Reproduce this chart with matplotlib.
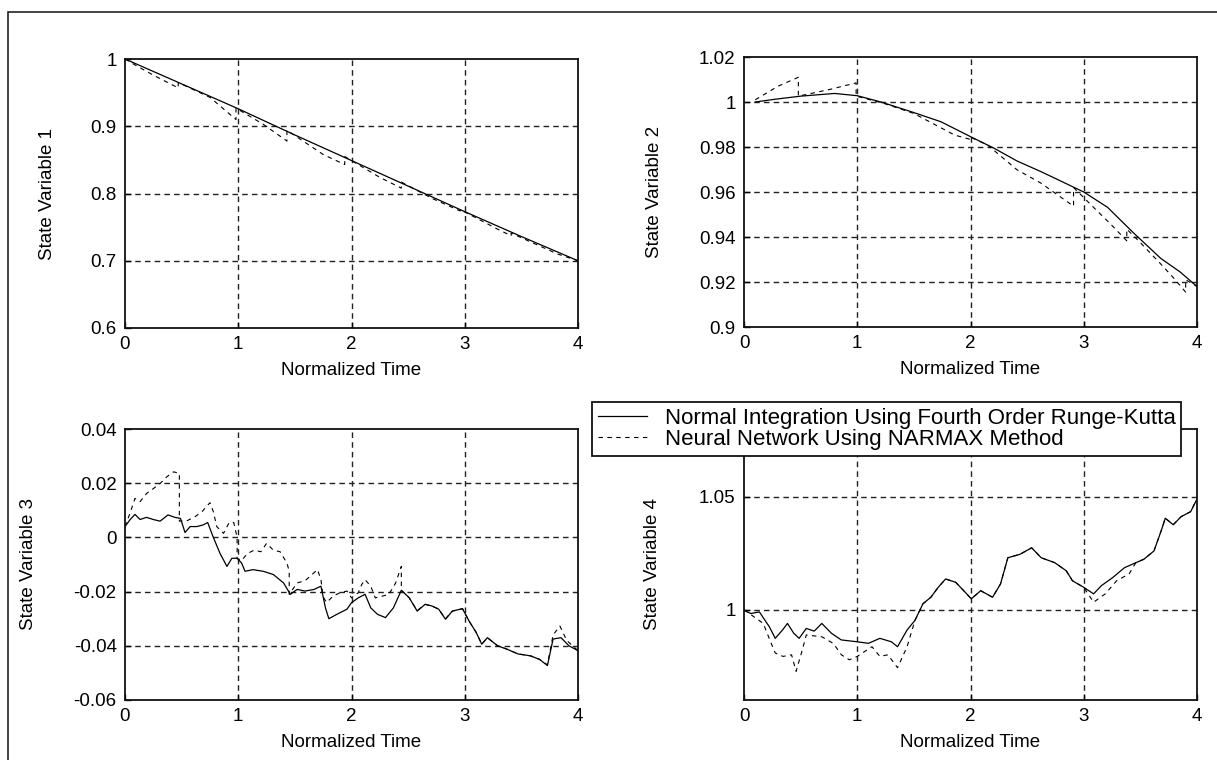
import matplotlib as mpl
mpl.use('Agg')
from matplotlib import pyplot as plt
from matplotlib.patches import Rectangle
import numpy as np

plt.rcParams['font.family'] = ['Liberation Sans', 'DejaVu Sans']
plt.rcParams['font.size'] = 13

W, H = 1217, 760

# State variable 1
t1_rk = [0, 0.5, 1, 1.5, 2, 2.5, 3, 3.5, 4]
sv1_rk = [1.0, 0.963, 0.926, 0.887, 0.849, 0.811, 0.773, 0.736, 0.700]
t1_nn = [0, 0.1, 0.25, 0.47, 0.47, 0.75, 0.98, 0.98, 1.22, 1.43, 1.43, 1.75, 1.94, 1.94,
         2.25, 2.44, 2.44, 2.72, 2.96, 2.96, 3.29, 3.41, 3.41, 3.82, 4.0]
sv1_nn = [1.0, 0.990, 0.976, 0.957, 0.965, 0.943, 0.910, 0.927, 0.903, 0.878, 0.894, 0.858,
          0.843, 0.855, 0.824, 0.808, 0.817, 0.792, 0.774, 0.776, 0.747, 0.737, 0.741, 0.710, 0.700]

# State variable 2
t2_rk = [0.1, 0.27, 0.5, 0.8, 1.0, 1.21, 1.5, 1.74, 2.0, 2.21, 2.41, 2.62, 2.8, 3.0, 3.21, 3.44, 3.68, 3.85, 4.0]
sv2_rk = [1.0, 1.0012, 1.0026, 1.0038, 1.0028, 1.0, 0.9953, 0.9912, 0.9846, 0.9794, 0.9738,
          0.9691, 0.9648, 0.96, 0.9532, 0.9418, 0.9305, 0.9245, 0.918]
t2_nn = [0.1, 0.3, 0.48, 0.48, 0.75, 0.99, 0.99, 1.24, 1.5, 1.86, 1.99, 1.99, 2.15, 2.41, 2.62,
         2.91, 2.91, 3.09, 3.24, 3.38, 3.38, 3.5, 3.68, 3.79, 3.9, 3.9, 4.0]
sv2_nn = [1.001, 1.007, 1.011, 1.0026, 1.0055, 1.0085, 1.0026, 0.9993, 0.9949, 0.9853, 0.9835,
          0.9846, 0.9809, 0.9699, 0.964, 0.9537, 0.962, 0.953, 0.9456, 0.9383, 0.9435, 0.9375,
          0.928, 0.922, 0.9155, 0.921, 0.918]

# State variable 3
t3_rk = [0.0, 0.044, 0.088, 0.133, 0.19, 0.25, 0.31, 0.38, 0.44, 0.49, 0.53, 0.575, 0.634, 0.69,
         0.73, 0.78, 0.84, 0.9, 0.944, 0.99, 1.03, 1.06, 1.13, 1.22, 1.31, 1.4, 1.46, 1.52, 1.59,
         1.67, 1.73, 1.77, 1.8, 1.87, 1.96, 2.0, 2.06, 2.12, 2.17, 2.23, 2.3, 2.37, 2.44, 2.51,
         2.58, 2.65, 2.71, 2.77, 2.83, 2.89, 2.98, 3.04, 3.1, 3.15, 3.2, 3.29, 3.37, 3.47, 3.58,
         3.66, 3.73, 3.78, 3.85, 3.92, 4.0]
sv3_rk = [0.004, 0.0065, 0.0085, 0.0066, 0.0074, 0.0066, 0.006, 0.0083, 0.0074, 0.007, 0.0018,
          0.004, 0.004, 0.0046, 0.0055, 0.0, -0.006, -0.0107, -0.0077, -0.0077, -0.0095, -0.0125,
          -0.0119, -0.0125, -0.0137, -0.0168, -0.021, -0.0192, -0.0198, -0.0192, -0.018, -0.026,
          -0.030, -0.0284, -0.0265, -0.0241, -0.0223, -0.021, -0.026, -0.0284, -0.0296, -0.026,
          -0.0195, -0.0223, -0.0272, -0.0247, -0.0253, -0.0265, -0.0302, -0.0272, -0.0263, -0.031,
          -0.035, -0.0394, -0.037, -0.040, -0.0412, -0.043, -0.0437, -0.045, -0.0473, -0.0375,
          -0.037, -0.040, -0.0418]
t3_nn = [0.0, 0.044, 0.088, 0.133, 0.19, 0.25, 0.31, 0.37, 0.43, 0.48, 0.48, 0.55, 0.62, 0.68,
         0.75, 0.78, 0.81, 0.87, 0.92, 0.96, 0.99, 0.99, 1.03, 1.08, 1.14, 1.2, 1.25, 1.31, 1.37,
         1.43, 1.45, 1.45, 1.52, 1.59, 1.67, 1.7, 1.73, 1.75, 1.78, 1.84, 1.9, 1.96, 2.0, 2.06,
         2.09, 2.12, 2.17, 2.21, 2.27, 2.33, 2.39, 2.42, 2.44, 2.44, 2.51, 2.58, 2.65, 2.71, 2.77,
         2.83, 2.89, 2.98, 3.04, 3.1, 3.15, 3.2, 3.29, 3.37, 3.47, 3.58, 3.66, 3.73, 3.78, 3.84,
         3.9, 4.0]
sv3_nn = [0.004, 0.0089, 0.0144, 0.0132, 0.0162, 0.018, 0.0199, 0.0224, 0.0242, 0.0236, 0.006,
          0.0062, 0.0077, 0.0095, 0.0128, 0.0095, 0.004, 0.0015, 0.0055, 0.0055, 0.0, -0.0077,
          -0.0085, -0.006, -0.0047, -0.0053, -0.0022, -0.0047, -0.0053, -0.0095, -0.0125, -0.021,
          -0.0168, -0.016, -0.013, -0.0119, -0.0156, -0.022, -0.024, -0.0216, -0.0204, -0.0198,
          -0.0223, -0.0204, -0.0174, -0.0156, -0.018, -0.0223, -0.0217, -0.021, -0.0168, -0.0131,
          -0.0107, -0.0195, -0.0223, -0.027, -0.0247, -0.0253, -0.0265, -0.030, -0.0272, -0.0263,
          -0.031, -0.035, -0.0394, -0.037, -0.040, -0.0412, -0.043, -0.0437, -0.045, -0.047,
          -0.036, -0.0327, -0.038, -0.0418]

# State variable 4
t4_rk = [0.0, 0.06, 0.136, 0.165, 0.224, 0.276, 0.34, 0.384, 0.44, 0.487, 0.55, 0.62, 0.687,
         0.773, 0.859, 0.996, 1.099, 1.2, 1.3, 1.356, 1.44, 1.51, 1.58, 1.65, 1.715, 1.78, 1.87,
         1.94, 2.007, 2.09, 2.195, 2.265, 2.33, 2.436, 2.54, 2.624, 2.744, 2.846, 2.9, 3.0, 3.087,
         3.155, 3.258, 3.36, 3.46, 3.53, 3.62, 3.687, 3.72, 3.79, 3.86, 3.944, 3.996]
sv4_rk = [0.9997, 0.9983, 0.999, 0.9968, 0.9924, 0.9873, 0.991, 0.9939, 0.9895, 0.9873, 0.9917,
          0.9905, 0.9939, 0.9895, 0.9866, 0.9858, 0.9851, 0.9873, 0.9858, 0.9836, 0.991, 0.9953,
          1.0026, 1.0055, 1.0099, 1.0136, 1.0121, 1.0084, 1.0048, 1.0084, 1.0055, 1.0114, 1.023,
          1.0245, 1.0274, 1.023, 1.0208, 1.0172, 1.0128, 1.0099, 1.007, 1.0106, 1.0143, 1.0186,
          1.0208, 1.0223, 1.026, 1.0354, 1.0405, 1.0376, 1.0412, 1.0434, 1.0486]
t4_nn = [0.0, 0.17, 0.24, 0.276, 0.345, 0.42, 0.46, 0.515, 0.55, 0.687, 0.79, 0.86, 0.93, 1.0,
         1.13, 1.2, 1.27, 1.356, 1.44, 1.51, 1.58, 1.65, 1.715, 1.78, 1.87, 1.94, 2.007, 2.09,
         2.195, 2.265, 2.33, 2.436, 2.54, 2.624, 2.744, 2.846, 2.9, 3.0, 3.087, 3.19, 3.29, 3.4,
         3.46, 3.53, 3.62, 3.687, 3.72, 3.79, 3.86, 3.944, 3.996]
sv4_nn = [1.0, 0.9939, 0.9851, 0.9808, 0.9793, 0.980, 0.9727, 0.9822, 0.9888, 0.988, 0.985,
          0.980, 0.9778, 0.9793, 0.9836, 0.9793, 0.980, 0.9743, 0.9836, 0.9953, 1.0026, 1.0055,
          1.0099, 1.0136, 1.0121, 1.0084, 1.0048, 1.0084, 1.0055, 1.0114, 1.023, 1.0245, 1.0274,
          1.023, 1.0208, 1.0172, 1.0128, 1.0099, 1.0033, 1.007, 1.0128, 1.0158, 1.0208, 1.0223,
          1.026, 1.0354, 1.0405, 1.0376, 1.0412, 1.0434, 1.0486]

x_ticks = [0, 1, 2, 3, 4]
panels = [
    dict(box=(125, 59, 578, 328), t_rk=t1_rk, y_rk=sv1_rk, t_nn=t1_nn, y_nn=sv1_nn,
         ylim=(0.6, 1.0), yticks=[0.6, 0.7, 0.8, 0.9, 1.0],
         ylabels=['0.6', '0.7', '0.8', '0.9', '1'], label='State Variable 1', lx=56),
    dict(box=(744, 57, 1197, 327), t_rk=t2_rk, y_rk=sv2_rk, t_nn=t2_nn, y_nn=sv2_nn,
         ylim=(0.9, 1.02), yticks=[0.9, 0.92, 0.94, 0.96, 0.98, 1.0, 1.02],
         ylabels=['0.9', '0.92', '0.94', '0.96', '0.98', '1', '1.02'], label='State Variable 2', lx=663),
    dict(box=(125, 429, 578, 700), t_rk=t3_rk, y_rk=sv3_rk, t_nn=t3_nn, y_nn=sv3_nn,
         ylim=(-0.06, 0.04), yticks=[-0.06, -0.04, -0.02, 0, 0.02, 0.04],
         ylabels=['-0.06', '-0.04', '-0.02', '0', '0.02', '0.04'], label='State Variable 3', lx=37),
    dict(box=(744, 429, 1197, 700), t_rk=t4_rk, y_rk=sv4_rk, t_nn=t4_nn, y_nn=sv4_nn,
         ylim=(0.96, 1.08), yticks=[1.0, 1.05],
         ylabels=['1', '1.05'], label='State Variable 4', lx=661),
]

fig = plt.figure(figsize=(W / 100, H / 100), dpi=100)

# outer frame
fig.patches.append(Rectangle((8 / W, -0.05), 1.1, 1 - 12 / H + 0.05, transform=fig.transFigure,
                             fill=False, edgecolor='#222222', linewidth=1.2))

axes = []
for p in panels:
    l, t, r, b = p['box']
    ax = fig.add_axes([l / W, 1 - b / H, (r - l) / W, (b - t) / H])
    ax.plot(p['t_rk'], p['y_rk'], '-k', linewidth=0.9,
            label='Normal Integration Using Fourth Order Runge-Kutta')
    ax.plot(p['t_nn'], p['y_nn'], color='k', linestyle=(0, (4, 4)), linewidth=0.8,
            label='Neural Network Using NARMAX Method')
    ax.set_xlim(0, 4)
    ax.set_ylim(*p['ylim'])
    ax.set_xticks(x_ticks)
    ax.set_xticklabels([str(v) for v in x_ticks])
    ax.set_yticks(p['yticks'])
    ax.set_yticklabels(p['ylabels'])
    ax.grid(True, color='#222222', linestyle=(0, (4, 3)), linewidth=1.0)
    # no grid line on top of the frame
    for tk, v in zip(ax.xaxis.get_major_ticks(), x_ticks):
        if v in (0, 4):
            tk.gridline.set_visible(False)
    for tk, v in zip(ax.yaxis.get_major_ticks(), p['yticks']):
        if abs(v - p['ylim'][0]) < 1e-9 or abs(v - p['ylim'][1]) < 1e-9:
            tk.gridline.set_visible(False)
    ax.tick_params(direction='in', length=4, width=1, color='k', labelsize=13.5, pad=6)
    for s in ax.spines.values():
        s.set_linewidth(1.3)
        s.set_color('#111111')
    ax.set_xlabel('Normalized Time', fontsize=13.5)
    ax.xaxis.set_label_coords(0.5, -0.125)
    ax.set_ylabel(p['label'], fontsize=13.5)
    ax.yaxis.set_label_coords((p['lx'] - l) / (r - l), 0.5)
    axes.append(ax)

leg = axes[3].legend(loc='upper right', bbox_to_anchor=(1181 / W, 1 - 402 / H),
                     bbox_transform=fig.transFigure, borderaxespad=0, fancybox=False,
                     edgecolor='#111111', framealpha=1, fontsize=16, handlelength=2.2,
                     handletextpad=0.8, labelspacing=0.02, borderpad=0.25)
leg.get_frame().set_linewidth(1.3)

plt.savefig('out.png', dpi=100)
plt.close()
